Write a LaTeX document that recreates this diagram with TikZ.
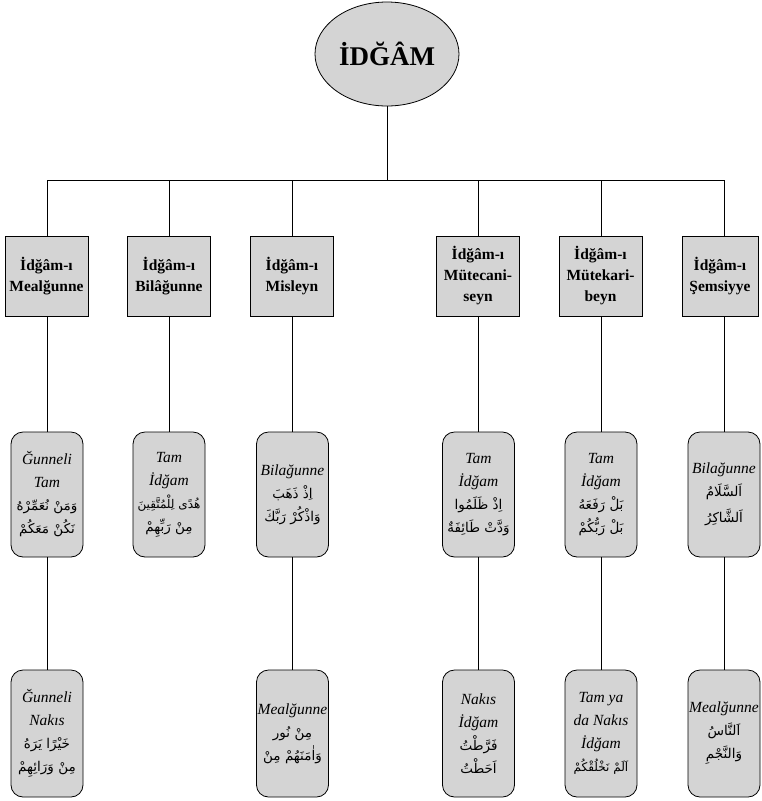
\documentclass[tikz,border=0pt]{standalone}
\usepackage{fontspec}
\setmainfont{Liberation Serif}
\newfontfamily\arabicfont[Script=Arabic]{DejaVu Sans}
\TeXXeTstate=1
\usetikzlibrary{shapes.geometric}
\definecolor{boxgray}{RGB}{212,212,212}
\newcommand{\arline}[1]{{\arabicfont\upshape\mdseries\fontsize{13.5}{23}\selectfont\beginR #1\endR}}
\newcommand{\arlinesmall}[1]{{\arabicfont\upshape\mdseries\fontsize{12}{23}\selectfont\beginR #1\endR}}
\tikzset{
  rootnode/.style={ellipse, draw, fill=boxgray, line width=0.8pt, minimum width=144pt, minimum height=104pt, inner sep=0pt, font=\fontsize{27}{30}\selectfont\bfseries},
  topbox/.style={rectangle, draw, fill=boxgray, line width=0.8pt, minimum width=83pt, minimum height=80pt, inner sep=0pt, align=center, font=\fontsize{15.5}{21}\selectfont\bfseries},
  leafbox/.style={rectangle, rounded corners=12pt, draw, fill=boxgray, line width=0.8pt, minimum width=72pt, minimum height=125pt, inner sep=0pt, align=center, font=\fontsize{15.5}{23}\selectfont\itshape},
  link/.style={draw, line width=0.8pt}
}
\begin{document}
\begin{tikzpicture}[x=1pt,y=-1pt]
\useasboundingbox (0,0) rectangle (761,801);
% root
\node[rootnode] (root) at (387,54) {İDĞÂM};
\coordinate (bus) at (387,180);
% top boxes
\node[topbox] (t1) at (46.5,276) {İdğâm-ı\\Mealğunne};
\node[topbox] (t2) at (169,276) {İdğâm-ı\\Bilâğunne};
\node[topbox] (t3) at (292,276) {İdğâm-ı\\Misleyn};
\node[topbox] (t4) at (478,276) {İdğâm-ı\\Mütecani-\\seyn};
\node[topbox] (t5) at (600.5,276) {İdğâm-ı\\Mütekari-\\beyn};
\node[topbox, minimum width=76pt] (t6) at (720,276) {İdğâm-ı\\Şemsiyye};
% middle nodes
\node[leafbox] (m1) at (47,494.5) {Ğunneli\\Tam\\\arline{وَمَنْ نُعَمِّرْهُ}\\\arline{نَكُنْ مَعَكُمْ}};
\node[leafbox] (m2) at (169,494.5) {Tam\\İdğam\\\arlinesmall{هُدًى لِلْمُتَّقِينَ}\\\arline{مِنْ رَبِّهِمْ}};
\node[leafbox] (m3) at (292.5,494.5) {Bilağunne\\\arline{اِذْ ذَهَبَ}\\\arline{وَاذْكُرْ رَبَّكَ}};
\node[leafbox] (m4) at (478.5,494.5) {Tam\\İdğam\\\arline{اِذْ ظَلَمُوا}\\\arline{وَدَّتْ طَائِفَةٌ}};
\node[leafbox] (m5) at (601,494.5) {Tam\\İdğam\\\arline{بَلْ رَفَعَهُ}\\\arline{بَلْ رَبُّكُمْ}};
\node[leafbox] (m6) at (724,494.5) {Bilağunne\\\arline{اَلسَّلَامُ}\\[3pt]\arline{اَلشَّاكِرُ}};
% bottom nodes
\node[leafbox, minimum height=127pt] (b1) at (47,733.5) {Ğunneli\\Nakıs\\\arline{خَيْرًا يَرَهُ}\\\arline{مِنْ وَرَائِهِمْ}};
\node[leafbox, minimum height=127pt] (b3) at (292.5,733.5) {Mealğunne\\\arline{مِنْ نُور}\\\arline{وَاٰمَنَهُمْ مِنْ}};
\node[leafbox, minimum height=127pt] (b4) at (478.5,733.5) {Nakıs\\İdğam\\\arline{فَرَّطْتُ}\\\arline{اَحَطْتُ}};
\node[leafbox, minimum height=127pt] (b5) at (601,733.5) {Tam ya\\da Nakıs\\İdğam\\\arlinesmall{اَلَمْ نَخْلُقْكُمْ}};
\node[leafbox, minimum height=127pt] (b6) at (724,733.5) {Mealğunne\\\arline{اَلنَّاسُ}\\\arline{وَالنَّجْمِ}};
% connectors
\draw[link] (root.south) -- (bus);
\draw[link] (m1.north |- t1.north) |- (bus);
\draw[link] (m2.north |- t2.north) |- (bus);
\draw[link] (m3.north |- t3.north) |- (bus);
\draw[link] (m4.north |- t4.north) |- (bus);
\draw[link] (m5.north |- t5.north) |- (bus);
\draw[link] (m6.north |- t6.north) |- (bus);
\draw[link] (m1.north |- t1.south) -- (m1.north);
\draw[link] (m2.north |- t2.south) -- (m2.north);
\draw[link] (m3.north |- t3.south) -- (m3.north);
\draw[link] (m4.north |- t4.south) -- (m4.north);
\draw[link] (m5.north |- t5.south) -- (m5.north);
\draw[link] (m6.north |- t6.south) -- (m6.north);
\draw[link] (m1.south) -- (b1.north);
\draw[link] (m3.south) -- (b3.north);
\draw[link] (m4.south) -- (b4.north);
\draw[link] (m5.south) -- (b5.north);
\draw[link] (m6.south) -- (b6.north);
\end{tikzpicture}
\end{document}
